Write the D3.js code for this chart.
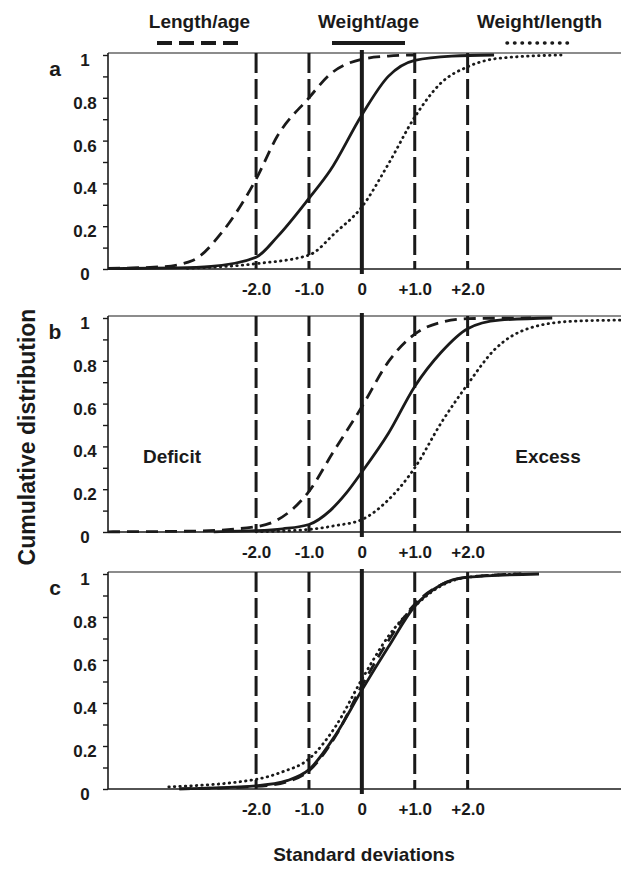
<!DOCTYPE html>
<html>
<head>
<meta charset="utf-8">
<script src="https://cdn.jsdelivr.net/npm/d3@7"></script>
<style>
  body { margin: 0; background: #fff; }
  text { font-family: "Liberation Sans", Arial, sans-serif; font-weight: bold; fill: #1a1a1a; }
</style>
</head>
<body>
<svg id="chart" width="621" height="869"></svg>
<script>
// tick values and labels
var sdTicks = [-2, -1, 0, 1, 2];
var sdLabels = ["-2.0", "-1.0", "0", "+1.0", "+2.0"];
var yMinor = [0, 0.1, 0.2, 0.3, 0.4, 0.5, 0.6, 0.7, 0.8, 0.9, 1];
var yLabels = [0, 0.2, 0.4, 0.6, 0.8, 1];
var seriesNames = ["Length/age", "Weight/age", "Weight/length"];

// [standard deviation, cumulative share]
var lengthAgeA = [[-4.8,0.003],[-3.8,0.01],[-3.2,0.04],[-2.65,0.17],[-2,0.42],[-1.6,0.62],[-1,0.8],[-0.6,0.91],[0,0.98],[0.5,0.995],[1,1]];
var weightAgeA = [[-4.8,0.002],[-3.5,0.005],[-2.85,0.012],[-2,0.055],[-1.6,0.15],[-1,0.33],[-0.6,0.46],[0,0.72],[0.5,0.9],[1,0.975],[1.7,0.995],[2.5,1]];
var weightLengthA = [[-3.3,0.003],[-2,0.025],[-1,0.065],[-0.5,0.17],[0,0.29],[0.5,0.49],[1,0.71],[1.5,0.87],[2,0.945],[2.6,0.985],[3.8,1]];

var lengthAgeB = [[-4.8,0.001],[-3.2,0.004],[-2,0.025],[-1.6,0.056],[-1,0.19],[-0.55,0.37],[0,0.585],[0.5,0.795],[1,0.925],[1.5,0.98],[2,0.997],[3.2,1]];
var weightAgeB = [[-2.8,0.001],[-2,0.006],[-1.5,0.015],[-1,0.035],[-0.6,0.1],[-0.3,0.18],[0,0.28],[0.5,0.46],[1,0.68],[1.5,0.84],[2,0.95],[2.6,0.99],[3.6,1]];
var weightLengthB = [[-2,0.001],[-1,0.012],[-0.5,0.03],[0,0.058],[0.5,0.15],[1,0.3],[1.5,0.51],[2,0.69],[2.5,0.85],[3.2,0.955],[4,0.985],[4.9,0.99]];

var lengthAgeC = [[-3.45,0.001],[-2,0.012],[-1.4,0.035],[-1,0.085],[-0.5,0.245],[0,0.48],[0.5,0.69],[1,0.86],[1.5,0.95],[2,0.985],[3,1]];
var weightAgeC = [[-3.45,0.001],[-2,0.015],[-1.4,0.04],[-1,0.09],[-0.5,0.25],[0,0.46],[0.5,0.66],[1,0.85],[1.5,0.95],[2,0.985],[3.35,1]];
var weightLengthC = [[-3.65,0.01],[-2,0.045],[-1.5,0.08],[-1,0.14],[-0.5,0.29],[0,0.51],[0.5,0.71],[1,0.85],[1.5,0.945],[2,0.985],[3,1]];

var ink = "#1a1a1a";
var svg = d3.select("#chart");

// one x scale shared by the three panels
var x = d3.scaleLinear().domain([-4.8, 4.9]).range([108, 621]);

// line styles for the three series
var styles = [
  {dash: "12,7", cap: "butt"},
  {dash: null, cap: "butt"},
  {dash: "0.5,5", cap: "round"}
];

var panels = [
  {label: "a", y1: 55, y0: 269, data: [lengthAgeA, weightAgeA, weightLengthA]},
  {label: "b", y1: 318, y0: 532, data: [lengthAgeB, weightAgeB, weightLengthB]},
  {label: "c", y1: 574, y0: 789, data: [lengthAgeC, weightAgeC, weightLengthC]}
];

panels.forEach(function(p) {
  var y = d3.scaleLinear().domain([0, 1]).range([p.y0, p.y1]);
  var g = svg.append("g");
  var top = p.y1 - 2;

  // frame: top, bottom and left lines
  g.append("line").attr("x1", x.range()[0]).attr("x2", x.range()[1])
    .attr("y1", top).attr("y2", top).attr("stroke", ink).attr("stroke-width", 1.2);
  g.append("line").attr("x1", x.range()[0]).attr("x2", x.range()[1])
    .attr("y1", y(0)).attr("y2", y(0)).attr("stroke", ink).attr("stroke-width", 1.6);
  g.append("line").attr("x1", x.range()[0]).attr("x2", x.range()[0])
    .attr("y1", top).attr("y2", y(0)).attr("stroke", ink).attr("stroke-width", 1.6);

  // y ticks every 0.1
  var yAxis = g.append("g")
    .attr("transform", "translate(" + x.range()[0] + ",0)")
    .call(d3.axisLeft(y).tickValues(yMinor).tickSize(5).tickSizeOuter(0).tickFormat(""));
  yAxis.select(".domain").remove();
  yAxis.selectAll("line").attr("stroke", ink).attr("stroke-width", 1.4);

  g.selectAll(".ylab").data(yLabels).enter().append("text")
    .attr("x", 85).attr("y", function(d) { return y(d) + 11; })
    .attr("text-anchor", "middle").attr("font-size", 17)
    .text(function(d) { return d; });

  // reference lines at the standard deviations
  sdTicks.forEach(function(s) {
    if (s === 0) {
      g.append("line").attr("x1", x(s)).attr("x2", x(s))
        .attr("y1", top - 3).attr("y2", y(0) + 5)
        .attr("stroke", ink).attr("stroke-width", 4);
    } else {
      g.append("line").attr("x1", x(s)).attr("x2", x(s))
        .attr("y1", top).attr("y2", y(0))
        .attr("stroke", ink).attr("stroke-width", 3)
        .attr("stroke-dasharray", "20,6");
    }
  });

  // x tick labels
  var xAxis = g.append("g")
    .attr("transform", "translate(0," + y(0) + ")")
    .call(d3.axisBottom(x).tickValues(sdTicks).tickSize(0)
      .tickFormat(function(d, i) { return sdLabels[i]; }));
  xAxis.select(".domain").remove();
  xAxis.selectAll("text").attr("font-size", 17).attr("dy", 0).attr("y", 26)
    .attr("fill", ink).attr("font-family", null);

  // the three cumulative curves
  var line = d3.line()
    .x(function(d) { return x(d[0]); })
    .y(function(d) { return y(d[1]); })
    .curve(d3.curveMonotoneX);

  p.data.forEach(function(series, i) {
    g.append("path")
      .datum(series)
      .attr("d", line)
      .attr("fill", "none")
      .attr("stroke", ink)
      .attr("stroke-width", 2.8)
      .attr("stroke-linecap", styles[i].cap)
      .attr("stroke-dasharray", styles[i].dash);
  });

  // panel letter
  g.append("text").attr("x", 55).attr("y", p.y1 + 21)
    .attr("text-anchor", "middle").attr("font-size", 21).text(p.label);
});

// legend at the top
var legendX = [[157, 242], [332, 405], [507, 572]];
seriesNames.forEach(function(name, i) {
  svg.append("text")
    .attr("x", (legendX[i][0] + legendX[i][1]) / 2).attr("y", 28)
    .attr("text-anchor", "middle").attr("font-size", 19).text(name);
  svg.append("line")
    .attr("x1", legendX[i][0]).attr("x2", legendX[i][1])
    .attr("y1", 43).attr("y2", 43)
    .attr("stroke", ink)
    .attr("stroke-width", i === 2 ? 3.5 : 4)
    .attr("stroke-linecap", styles[i].cap)
    .attr("stroke-dasharray", i === 0 ? "15,7" : (i === 2 ? "0.5,7" : null));
});

// region notes in panel b
svg.append("text").attr("x", 172).attr("y", 463).attr("text-anchor", "middle")
  .attr("font-size", 19).text("Deficit");
svg.append("text").attr("x", 548).attr("y", 463).attr("text-anchor", "middle")
  .attr("font-size", 19).text("Excess");

// axis titles
svg.append("text")
  .attr("transform", "translate(35,437) rotate(-90)")
  .attr("text-anchor", "middle").attr("font-size", 23)
  .text("Cumulative distribution");
svg.append("text").attr("x", 364).attr("y", 861).attr("text-anchor", "middle")
  .attr("font-size", 19).text("Standard deviations");
</script>
</body>
</html>
